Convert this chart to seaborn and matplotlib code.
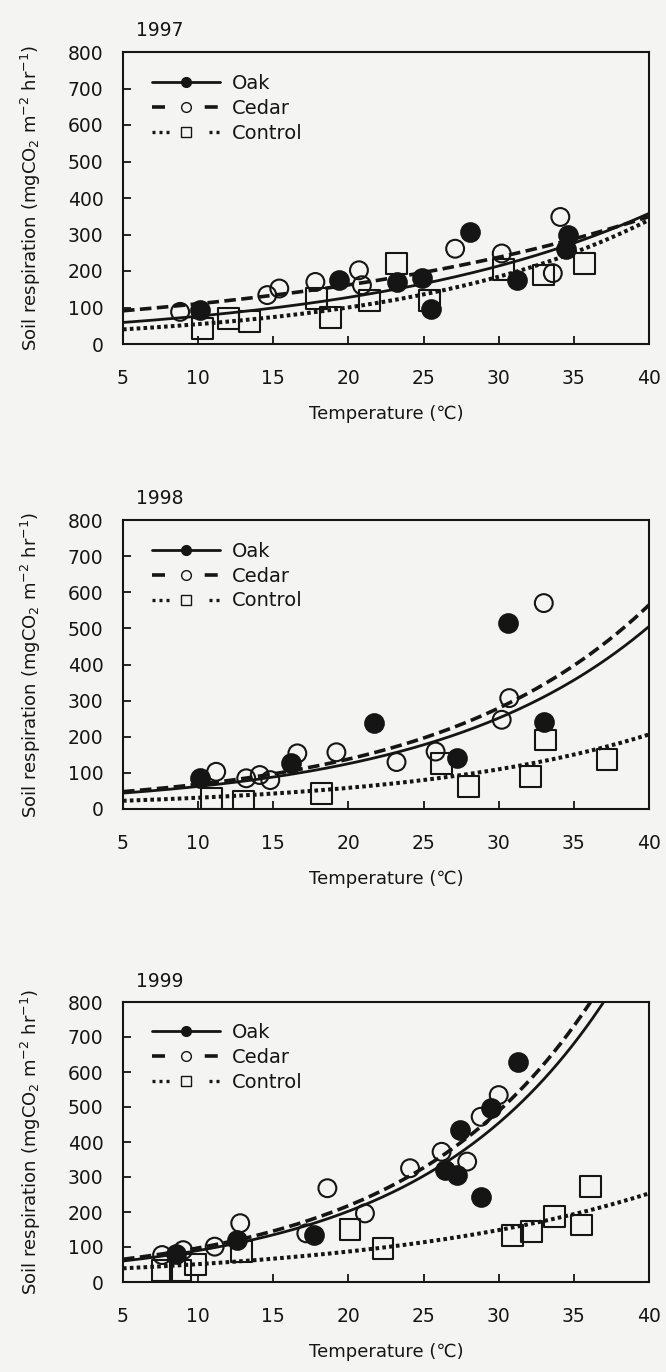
import numpy as np
import pandas as pd
import matplotlib
matplotlib.use("Agg")
import matplotlib.pyplot as plt
from matplotlib.lines import Line2D
import seaborn as sns

# ---------------- data ----------------
years = ["1997", "1998", "1999"]
sites = ["Oak", "Cedar", "Control"]

# 1997
oak_97_t = [10.1, 19.4, 23.2, 24.9, 25.5, 28.1, 31.2, 34.5, 34.6]
oak_97_r = [93, 175, 170, 180, 97, 307, 175, 260, 298]
cedar_97_t = [8.8, 14.6, 15.4, 17.8, 20.7, 20.9, 27.1, 30.2, 33.6, 34.1]
cedar_97_r = [88, 134, 152, 170, 202, 161, 261, 248, 194, 348]
control_97_t = [10.3, 12.0, 13.4, 17.9, 18.8, 21.4, 23.2, 25.4, 30.3, 33.0, 35.7]
control_97_r = [43, 70, 62, 125, 72, 120, 220, 120, 205, 189, 220]

# 1998
oak_98_t = [10.1, 16.2, 21.7, 27.2, 30.6, 33.0]
oak_98_r = [85, 127, 237, 140, 514, 242]
cedar_98_t = [11.2, 13.2, 14.1, 14.8, 16.6, 19.2, 23.2, 25.8, 30.2, 30.7, 33.0]
cedar_98_r = [103, 85, 94, 80, 154, 157, 130, 159, 247, 307, 570]
control_98_t = [10.9, 13.0, 18.2, 26.2, 28.0, 32.1, 33.1, 37.2]
control_98_r = [30, 20, 44, 127, 62, 89, 191, 136]

# 1999
oak_99_t = [8.5, 12.6, 17.7, 26.4, 27.2, 27.4, 28.8, 29.5, 31.3]
oak_99_r = [80, 120, 134, 320, 306, 434, 244, 496, 629]
cedar_99_t = [7.6, 9.0, 11.1, 12.8, 17.2, 18.6, 21.1, 24.1, 26.2, 27.9, 28.8, 30.0]
cedar_99_r = [77, 91, 101, 168, 139, 268, 196, 325, 372, 344, 472, 534]
control_99_t = [7.6, 8.8, 9.8, 12.9, 20.1, 22.3, 30.9, 32.2, 33.7, 35.5, 36.1]
control_99_r = [34, 34, 49, 87, 149, 96, 134, 144, 187, 163, 272]

# exponential fit coefficients  R = a * exp(b * T)   (Oak, Cedar, Control)
fit_a_97 = [45.6, 75.1, 29.5]
fit_b_97 = [0.0515, 0.0384, 0.0611]
fit_a_98 = [31.1, 33.8, 16.6]
fit_b_98 = [0.0697, 0.0704, 0.0630]
fit_a_99 = [40.0, 43.4, 29.9]
fit_b_99 = [0.0810, 0.0807, 0.0534]

x_ticks = [5, 10, 15, 20, 25, 30, 35, 40]
y_ticks = [0, 100, 200, 300, 400, 500, 600, 700, 800]

points = {
    "1997": [(oak_97_t, oak_97_r), (cedar_97_t, cedar_97_r), (control_97_t, control_97_r)],
    "1998": [(oak_98_t, oak_98_r), (cedar_98_t, cedar_98_r), (control_98_t, control_98_r)],
    "1999": [(oak_99_t, oak_99_r), (cedar_99_t, cedar_99_r), (control_99_t, control_99_r)],
}
fits = {"1997": (fit_a_97, fit_b_97), "1998": (fit_a_98, fit_b_98), "1999": (fit_a_99, fit_b_99)}

# ---------------- style ----------------
sns.set_theme(style="ticks")
BG = "#f4f4f3"
INK = "#151515"
plt.rcParams["font.family"] = ["DejaVu Sans", "Noto Sans CJK JP"]
plt.rcParams["mathtext.fontset"] = "dejavusans"

fig = plt.figure(figsize=(6.66, 13.72), dpi=100, facecolor=BG)

# axes boxes in figure fraction: left, bottom, width, height
boxes = [
    (123 / 666, 1 - 344 / 1372, 526 / 666, 292 / 1372),
    (123 / 666, 1 - 809 / 1372, 526 / 666, 289 / 1372),
    (123 / 666, 1 - 1282 / 1372, 526 / 666, 280 / 1372),
]

line_styles = [
    dict(linestyle="-", lw=2.0),
    dict(linestyle=(0, (3.2, 1.5)), lw=2.6),
    dict(linestyle=(0, (0.9, 0.8)), lw=2.9),
]
marker_styles = [
    dict(marker="o", s=180, filled=True),
    dict(marker="o", s=165, filled=False),
    dict(marker="s", s=225, filled=False),
]

tgrid = np.linspace(5, 40, 300)

for yi, (year, box) in enumerate(zip(years, boxes)):
    ax = fig.add_axes(box)
    ax.set_facecolor(BG)
    a_list, b_list = fits[year]
    # fitted curves
    for si, site in enumerate(sites):
        curve = pd.DataFrame({"T": tgrid, "R": a_list[si] * np.exp(b_list[si] * tgrid)})
        sns.lineplot(data=curve, x="T", y="R", ax=ax, color=INK,
                     linestyle=line_styles[si]["linestyle"], lw=line_styles[si]["lw"],
                     zorder=2)
        ax.lines[-1].set_dash_capstyle("butt")
    # observed points
    for si, site in enumerate(sites):
        tt, rr = points[year][si]
        df = pd.DataFrame({"T": tt, "R": rr})
        ms = marker_styles[si]
        sns.scatterplot(data=df, x="T", y="R", ax=ax, marker=ms["marker"], s=ms["s"],
                        color=INK, edgecolor=INK, linewidth=1.5, zorder=3)
        if not ms["filled"]:
            ax.collections[-1].set_facecolor("none")

    ax.set_xlim(5, 40)
    ax.set_ylim(0, 800)
    ax.set_xticks(x_ticks)
    ax.set_yticks(y_ticks)
    ax.tick_params(direction="in", length=6, width=1.3, colors=INK,
                   labelsize=13.5, top=False, right=False)
    ax.tick_params(axis="x", pad=18)
    ax.tick_params(axis="y", pad=14)
    for sp in ax.spines.values():
        sp.set_visible(True)
        sp.set_linewidth(1.5)
        sp.set_color(INK)
    ax.set_xlabel("Temperature (\u2103)", fontsize=13, color=INK, labelpad=12)
    ax.set_ylabel(r"Soil respiration (mgCO$_2$ m$^{-2}$ hr$^{-1}$)", fontsize=13,
                  color=INK, labelpad=18)
    ax.text(0.025, 1.055, year, transform=ax.transAxes, ha="left", va="baseline",
            fontsize=13.5, color=INK)

    handles = [
        Line2D([], [], color=INK, lw=2.0, linestyle="-", marker="o", markersize=7,
               markerfacecolor=INK, markeredgecolor=INK),
        Line2D([], [], color=INK, lw=2.6, linestyle=(0, (3.6, 11.0, 3.6, 10)),
               marker="o", markersize=7, markerfacecolor="none", markeredgecolor=INK,
               markeredgewidth=1.0),
        Line2D([], [], color=INK, lw=2.4,
               linestyle=(0, (0.9, 1.2, 0.9, 1.2, 0.9, 12.0, 0.9, 1.2, 0.9, 10)),
               marker="s", markersize=7, markerfacecolor="none", markeredgecolor=INK,
               markeredgewidth=1.0),
    ]
    leg = ax.legend(handles, sites, loc="upper left", bbox_to_anchor=(0.055, 0.925),
                    frameon=False, fontsize=14, handlelength=3.5, handletextpad=0.6,
                    labelspacing=0.3, borderpad=0, borderaxespad=0)
    for t in leg.get_texts():
        t.set_color(INK)

fig.savefig("out.png", dpi=100, facecolor=BG)
